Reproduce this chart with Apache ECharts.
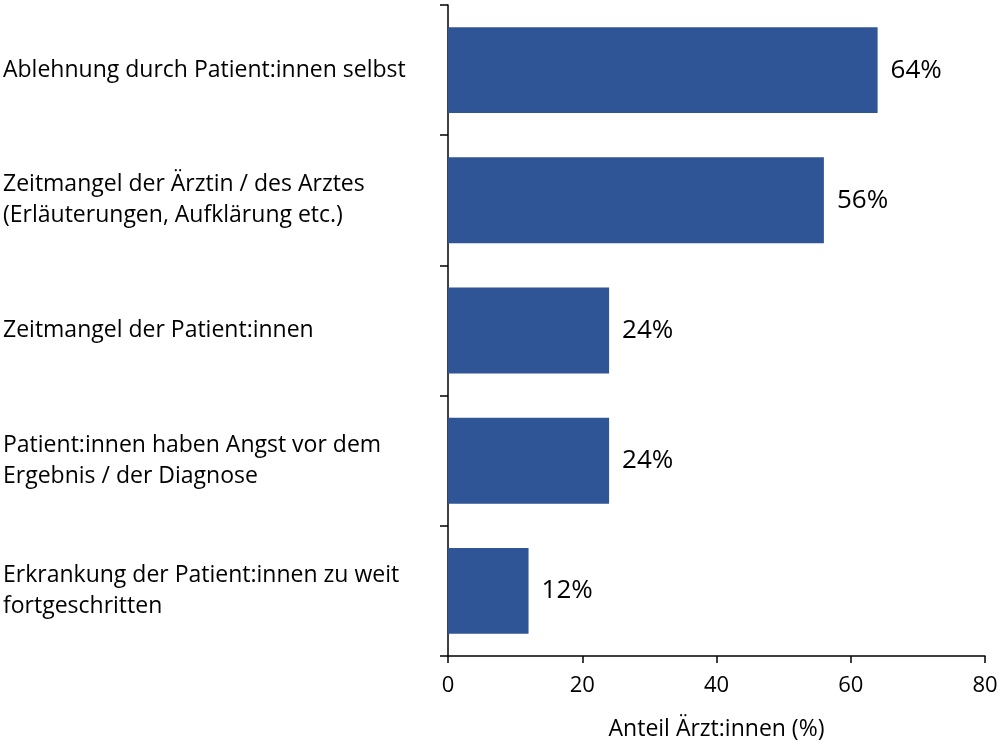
<!DOCTYPE html>
<html>
<head>
<meta charset="utf-8">
<script src="https://cdn.jsdelivr.net/npm/echarts@6/dist/echarts.min.js"></script>
<style>html,body{margin:0;padding:0;background:#fff}#c{width:1004px;height:753px}</style>
</head>
<body>
<div id="c"></div>
<script>
const categories = [
  'Ablehnung durch Patient:innen selbst',
  'Zeitmangel der Ärztin / des Arztes\n(Erläuterungen, Aufklärung etc.)',
  'Zeitmangel der Patient:innen',
  'Patient:innen haben Angst vor dem\nErgebnis / der Diagnose',
  'Erkrankung der Patient:innen zu weit\nfortgeschritten'
];
const values = [64, 56, 24, 24, 12];
const xTicks = [0, 20, 40, 60, 80];
const xName = 'Anteil Ärzt:innen (%)';

const FONT = '"Open Sans", "Liberation Sans", sans-serif';
const chart = echarts.init(document.getElementById('c'), null, {renderer: 'canvas'});
chart.setOption({
  animation: false,
  grid: {left: 448, right: 19, top: 5, bottom: 97, containLabel: false},
  xAxis: {
    type: 'value', min: xTicks[0], max: xTicks[xTicks.length - 1], interval: xTicks[1] - xTicks[0],
    name: xName, nameLocation: 'middle', nameGap: 62,
    nameTextStyle: {fontFamily: FONT, fontSize: 23, color: '#000'},
    axisLine: {show: true, lineStyle: {color: '#000', width: 1.5}},
    axisTick: {show: true, inside: false, length: 7, lineStyle: {color: '#000', width: 1.5}},
    axisLabel: {fontFamily: FONT, fontSize: 22, color: '#000', margin: 19},
    splitLine: {show: false}
  },
  yAxis: {
    type: 'category', data: categories, inverse: true,
    axisLine: {show: true, lineStyle: {color: '#000', width: 1.5}},
    axisTick: {show: true, inside: false, length: 8, lineStyle: {color: '#000', width: 1.5}},
    axisLabel: {fontFamily: FONT, fontSize: 23, color: '#000', align: 'left', margin: 445, lineHeight: 31, padding: [8, 0, 0, 0]}
  },
  series: [{
    type: 'bar', data: values, barCategoryGap: '34%',
    itemStyle: {color: '#2F5597'},
    label: {show: true, position: 'right', distance: 13, formatter: '{c}%', fontFamily: FONT, fontSize: 26, color: '#000', padding: [6, 0, 0, 0]}
  }]
});
</script>
</body>
</html>
